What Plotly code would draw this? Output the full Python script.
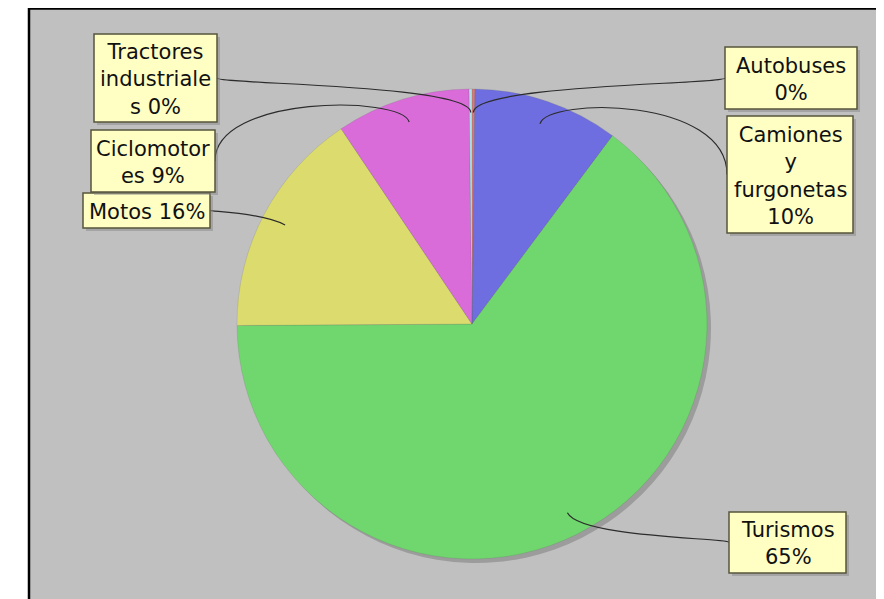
import math
import plotly.graph_objects as go

# ---------------- data ----------------
categories = ["Autobuses", "Camiones y furgonetas", "Turismos", "Motos",
              "Ciclomotores", "Tractores industriales"]
values = [0.2, 10.0, 64.7, 15.7, 9.2, 0.2]
# label text broken into lines as in the reference
label_lines = [
    ["Autobuses", "{p}%"],
    ["Camiones", "y", "furgonetas", "{p}%"],
    ["Turismos", "{p}%"],
    ["Motos {p}%"],
    ["Ciclomotor", "es {p}%"],
    ["Tractores", "industriale", "s {p}%"],
]
colors = ["#dc7a7a", "#6e6ee0", "#70d66e", "#dcdc6e", "#da6cda", "#a6e6e6"]

# ---------------- layout helpers (pixels, page coordinates) ----------------
OFF = 8                      # page body margin
W, H = 884 - OFF, 599 - OFF  # figure size
CX, CY, R = 472 - OFF, 324 - OFF, 235
# label boxes (x0, y0, x1, y1) in page pixels, same order as categories
boxes = [
    (725, 47, 857, 109),
    (727, 116, 853, 233),
    (729, 512, 846, 573),
    (83, 193, 210, 228),
    (91, 130, 215, 192),
    (94, 34, 217, 122),
]
boxes = [(a - OFF, b - OFF, c - OFF, d - OFF) for a, b, c, d in boxes]


def dom(cx, cy, r):
    return dict(x=[(cx - r) / W, (cx + r) / W],
                y=[(H - cy - r) / H, (H - cy + r) / H])


fig = go.Figure()

# pie shadow
fig.add_trace(go.Pie(
    labels=categories, values=values, sort=False, direction="clockwise",
    rotation=0, domain=dom(CX + 4, CY + 4, R), textinfo="none",
    marker=dict(colors=["#9c9c9c"] * len(values), line=dict(width=0)),
    hoverinfo="skip", showlegend=False,
))
# pie
fig.add_trace(go.Pie(
    labels=categories, values=values, sort=False, direction="clockwise",
    rotation=0, domain=dom(CX, CY, R), textinfo="none",
    marker=dict(colors=colors, line=dict(color="rgba(90,90,90,0.35)", width=0.5)),
    showlegend=False,
))

shapes = []
annotations = []
# background panel
px0, py0 = 28 - OFF, 7 - OFF
shapes.append(dict(type="rect", xref="x", yref="y", x0=px0, y0=py0, x1=W + 5, y1=H + 5,
                   fillcolor="#c0c0c0", line=dict(width=0), layer="below"))
shapes.append(dict(type="line", xref="x", yref="y", x0=px0 + 1, y0=py0, x1=px0 + 1, y1=H + 5,
                   line=dict(color="#000000", width=2.5), layer="below"))
shapes.append(dict(type="line", xref="x", yref="y", x0=px0, y0=0.8, x1=W + 5, y1=0.8,
                   line=dict(color="#000000", width=2), layer="below"))

total = sum(values)
cum = 0.0
for i, v in enumerate(values):
    theta = 2 * math.pi * (cum + v / 2) / total
    cum += v
    sx, sy = math.sin(theta), -math.cos(theta)
    lx, ly = CX + 0.9 * R * sx, CY + 0.9 * R * sy
    ex, ey = CX + 1.02 * R * sx, CY + 1.02 * R * sy
    x0, y0, x1, y1 = boxes[i]
    right = sx > 0
    ax = x0 if right else x1
    ay = (y0 + y1) / 2
    path = f"M {lx:.1f},{ly:.1f} C {ex:.1f},{ey:.1f} {ax:.1f},{ey:.1f} {ax:.1f},{ay:.1f}"
    shapes.append(dict(type="path", xref="x", yref="y", path=path,
                       line=dict(color="#2c2c2c", width=1.2), layer="above"))
    # box shadow + box
    shapes.append(dict(type="rect", xref="x", yref="y", x0=x0 + 3, y0=y0 + 3,
                       x1=x1 + 3, y1=y1 + 3, fillcolor="rgba(130,130,130,0.45)",
                       line=dict(width=0), layer="above"))
    shapes.append(dict(type="rect", xref="x", yref="y", x0=x0, y0=y0, x1=x1, y1=y1,
                       fillcolor="#ffffc4", line=dict(color="#55553c", width=1.5),
                       layer="above"))
    pct = round(v / total * 100)
    text = "<br>".join(s.format(p=pct) for s in label_lines[i])
    annotations.append(dict(x=(x0 + x1) / 2, y=(y0 + y1) / 2 + 1, xref="x", yref="y",
                            text=text, showarrow=False, align="center",
                            xanchor="center", yanchor="middle",
                            font=dict(family="DejaVu Sans", size=21, color="#111111")))

fig.update_layout(
    width=W, height=H, margin=dict(l=0, r=0, t=0, b=0),
    paper_bgcolor="#ffffff", plot_bgcolor="rgba(0,0,0,0)",
    xaxis=dict(range=[0, W], visible=False, fixedrange=True, domain=[0, 1]),
    yaxis=dict(range=[H, 0], visible=False, fixedrange=True, domain=[0, 1]),
    shapes=shapes, annotations=annotations, showlegend=False,
)

fig.write_html("out.html")
